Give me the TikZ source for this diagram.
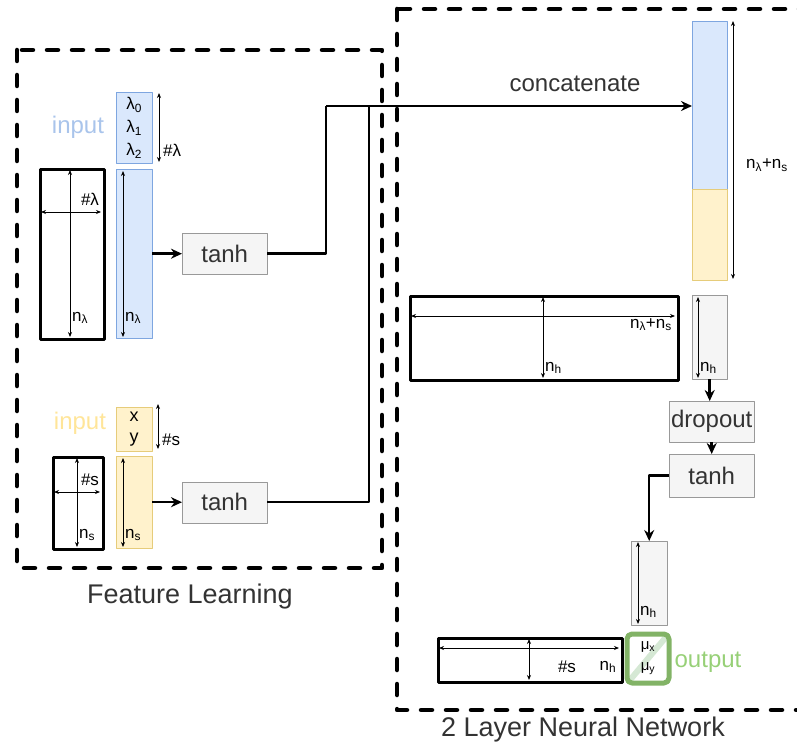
\documentclass[tikz,border=0pt]{standalone}
\usepackage{fontspec}
\setmainfont{Liberation Sans}
\usetikzlibrary{arrows.meta}

\definecolor{lamfill}{HTML}{DAE8FC}
\definecolor{lamdraw}{HTML}{7EA6E0}
\definecolor{posfill}{HTML}{FFF2CC}
\definecolor{posdraw}{HTML}{E6CC7A}
\definecolor{hidfill}{HTML}{F5F5F5}
\definecolor{hiddraw}{HTML}{999999}
\definecolor{outdraw}{HTML}{82B366}
\definecolor{outfill}{HTML}{D5E8D4}
\definecolor{outtext}{HTML}{97D077}
\definecolor{lamtext}{HTML}{A9C4EB}
\definecolor{postext}{HTML}{FFE599}
\definecolor{darktext}{HTML}{333333}

\begin{document}
\begin{tikzpicture}[x=1pt, y=-1pt, >=Stealth, line join=round]
		
		% ================= 1. 样式 =================
		\tikzset{
			box/.style={draw, inner sep=0pt, anchor=north west},
			mat/.style={box, line width=2.8pt},
			lamvec/.style={box, draw=lamdraw, fill=lamfill},
			posvec/.style={box, draw=posdraw, fill=posfill},
			hidvec/.style={box, draw=hiddraw, fill=hidfill},
			act/.style={box, draw=hiddraw, fill=hidfill, minimum width=85pt, minimum height=41pt,
				text=darktext, font=\fontsize{24}{28}\selectfont},
			dim/.style={{Stealth[length=5pt, width=4pt]}-{Stealth[length=5pt, width=4pt]}, line width=0.8pt},
			flow/.style={-{Stealth[length=11pt, width=10pt]}, line width=2.5pt},
			frame/.style={line width=4.5pt, dash pattern=on 11pt off 14pt, line cap=round},
			lbl/.style={font=\fontsize{17}{20}\selectfont, inner sep=0pt},
			word/.style={font=\fontsize{24}{28}\selectfont, inner sep=0pt},
			big/.style={font=\fontsize{27}{32}\selectfont, text=darktext, inner sep=0pt}
		}
		
		\useasboundingbox (0,0) rectangle (797,749);
		
		% ================= 2. 两个虚线框 =================
		\draw[frame] (17,50) rectangle (382,568);
		\draw[frame] (397,9) rectangle (815,710);
		\node[big] at (190,597) {Feature Learning};
		\node[big] at (583,730) {2 Layer Neural Network};
		
		% ================= 3. 波长输入支路 =================
		\node[lamvec, minimum width=36pt, minimum height=71pt, lbl, align=center,
		font=\fontsize{17}{23}\selectfont] (inL) at (116,92) {λ\textsubscript{0}\\λ\textsubscript{1}\\λ\textsubscript{2}};
		\node[word, text=lamtext] at (78,127) {input};
		\draw[dim] (159,93) -- (159,162);
		\node[lbl, anchor=west] at (163,150) {\#λ};
		
		\node[mat, minimum width=64pt, minimum height=170pt] (WL) at (39,168) {};
		\draw[dim] (70,170) -- (70,337);
		\draw[dim] (41,212) -- (101,212);
		\node[lbl] at (90,199) {\#λ};
		\node[lbl, anchor=west] at (72,318) {n\textsubscript{λ}};
		
		\node[lamvec, minimum width=36pt, minimum height=169pt] (hL) at (116,169) {};
		\draw[dim] (123,171) -- (123,337);
		\node[lbl, anchor=west] at (125,318) {n\textsubscript{λ}};
		
		\node[act] (tanhA) at (182,233) {tanh};
		\draw[flow] (hL.east) -- (tanhA.west);
		
		% ================= 4. 位置输入支路 =================
		\node[posvec, minimum width=36pt, minimum height=44pt, lbl, align=center,
		font=\fontsize{18}{21}\selectfont] (inS) at (116,407) {x\\y};
		\node[word, text=postext] at (80,423) {input};
		\draw[dim] (158,404) -- (158,449);
		\node[lbl, anchor=west] at (162,440) {\#s};
		
		\node[mat, minimum width=50pt, minimum height=92pt] (WS) at (52,456) {};
		\draw[dim] (77,458) -- (77,547);
		\draw[dim] (54,492) -- (100,492);
		\node[lbl] at (90,480) {\#s};
		\node[lbl, anchor=west] at (79,535) {n\textsubscript{s}};
		
		\node[posvec, minimum width=36pt, minimum height=92pt] (hS) at (116,456) {};
		\draw[dim] (123,458) -- (123,547);
		\node[lbl, anchor=west] at (125,535) {n\textsubscript{s}};
		
		\node[act] (tanhB) at (182,481.5) {tanh};
		\draw[flow] (hS.east) -- (tanhB.west);
		
		% ================= 5. 拼接 =================
		\node[lamvec, minimum width=35pt, minimum height=168pt] (cL) at (692,21) {};
		\node[posvec, minimum width=35pt, minimum height=91pt] (cS) at (692,189) {};
		\draw[dim] (733,21) -- (733,279);
		\node[lbl] at (767,165) {n\textsubscript{λ}+n\textsubscript{s}};
		\node[word, text=darktext] at (575,84) {concatenate};
		
		\coordinate (jA) at (326,106);
		\coordinate (jB) at (369,106);
		\draw[line width=2.5pt] (tanhA.east) -| (jA);
		\draw[line width=2.5pt] (tanhB.east) -| (jB);
		\draw[flow] (jA) -- (jA -| cL.west);
		
		% ================= 6. 隐藏层 =================
		\node[mat, minimum width=268pt, minimum height=84pt] (W1) at (409,295) {};
		\draw[dim] (543,297) -- (543,378);
		\draw[dim] (411,316) -- (675,316);
		\node[lbl, anchor=north east] at (672,318) {n\textsubscript{λ}+n\textsubscript{s}};
		\node[lbl, anchor=west] at (545,368) {n\textsubscript{h}};
		
		\node[hidvec, minimum width=35pt, minimum height=84pt] (h1) at (692,295) {};
		\draw[dim] (698,297) -- (698,378);
		\node[lbl, anchor=west] at (700,368) {n\textsubscript{h}};
		
		\node[act] (drop) at (669,401) {dropout};
		\node[act, minimum height=43pt] (tanhC) at (669,454) {tanh};
		\draw[flow] (h1.south) -- (h1.south |- drop.north);
		\draw[flow] (drop.south) -- (tanhC.north);
		
		\node[hidvec, minimum width=36pt, minimum height=84pt] (h2) at (631,541) {};
		\draw[dim] (638,542) -- (638,624);
		\node[lbl, anchor=west] at (640,612) {n\textsubscript{h}};
		\draw[flow] (tanhC.west) -| (h2.north);
		
		% ================= 7. 输出层 =================
		\node[mat, minimum width=184pt, minimum height=44pt] (W2) at (437,637) {};
		\draw[dim] (529,639) -- (529,680);
		\draw[dim] (439,648) -- (619,648);
		\node[lbl] at (567,667) {\#s};
		\node[lbl] at (608,667) {n\textsubscript{h}};
		
		\draw[outfill, line width=6pt] (630,680) -- (666,637);
		\node[draw=outdraw, line width=5pt, rounded corners=5pt, minimum width=42pt, minimum height=49pt,
		inner sep=0pt, align=center, font=\fontsize{15}{21}\selectfont] (out) at (648,658.5)
		{μ\textsubscript{x}\\μ\textsubscript{y}};
		\node[word, text=outtext] at (708,662) {output};
		
	\end{tikzpicture}
\end{document}
